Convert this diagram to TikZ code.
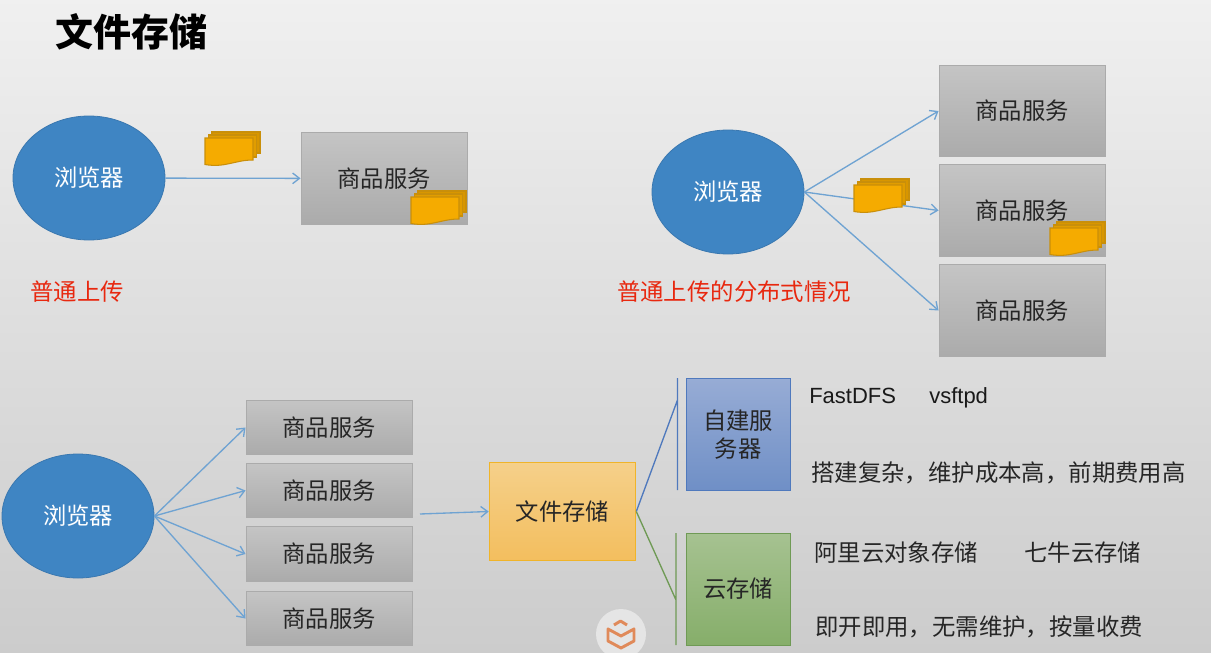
\documentclass[tikz,border=0pt]{standalone}
\usepackage{fontspec}
\setmainfont{Liberation Sans}
\newfontfamily\cjk{Noto Sans CJK SC}
\usetikzlibrary{arrows.meta,shapes.geometric}
\definecolor{bluefill}{HTML}{3F85C3}
\definecolor{blueline}{HTML}{3A78B0}
\definecolor{linkblue}{HTML}{6FA3D2}
\definecolor{docfill}{HTML}{F5AB00}
\definecolor{docline}{HTML}{C98F0A}
\definecolor{noteRed}{HTML}{E8280F}
\definecolor{selftop}{HTML}{97ACD5}
\definecolor{selfbot}{HTML}{6F8FC6}
\definecolor{selfline}{HTML}{4F79BD}
\definecolor{cloudtop}{HTML}{A6C291}
\definecolor{cloudbot}{HTML}{86AE6A}
\definecolor{cloudline}{HTML}{6F9A55}
\definecolor{storetop}{HTML}{F5D08A}
\definecolor{storebot}{HTML}{F3BE5E}
\definecolor{storeline}{HTML}{F0B429}
\definecolor{logoorange}{HTML}{E08A5A}
\tikzset{
  >={Straight Barb[length=1.8mm,width=2.8mm]},
  browser/.style={ellipse,draw=blueline,fill=bluefill,line width=0.6pt,
    minimum width=114pt,minimum height=93pt,inner sep=0pt,text=white,
    font=\cjk\fontsize{17.5}{20}\selectfont},
  svcbox/.style={draw=black!33,top color=black!23,bottom color=black!33,
    line width=0.7pt,minimum width=124.5pt,inner sep=0pt,
    font=\cjk\fontsize{17.5}{20}\selectfont,text=black!85},
  svctall/.style={svcbox,minimum height=68.5pt},
  svcflat/.style={svcbox,minimum height=41pt},
  storebox/.style={draw=storeline,top color=storetop,bottom color=storebot,
    line width=0.7pt,minimum width=110pt,minimum height=74pt,inner sep=0pt,
    font=\cjk\fontsize{17.5}{20}\selectfont,text=black!85},
  selfbox/.style={draw=selfline,top color=selftop,bottom color=selfbot,
    line width=0.7pt,minimum width=78pt,minimum height=84.5pt,inner sep=0pt,
    align=center,font=\cjk\fontsize{17.5}{21}\selectfont,text=black!85},
  cloudbox/.style={draw=cloudline,top color=cloudtop,bottom color=cloudbot,
    line width=0.7pt,minimum width=78pt,minimum height=84pt,inner sep=0pt,
    font=\cjk\fontsize{17.5}{20}\selectfont,text=black!85},
  flow/.style={->,draw=linkblue,line width=1pt},
  txtlbl/.style={anchor=west,inner sep=0pt,text=black!85,
    font=\cjk\fontsize{17.55}{20}\selectfont},
  latinlbl/.style={anchor=base west,inner sep=0pt,text=black!90,
    font=\fontsize{16.5}{20}\selectfont},
  redlbl/.style={inner sep=0pt,text=noteRed,font=\cjk\fontsize{17.55}{20}\selectfont},
  sheet/.style={draw=docline,fill=docfill,line width=0.8pt},
  docs/.pic={
    \filldraw[sheet,fill=docfill!88!black] (7,-6) rectangle (55,15);
    \filldraw[sheet,fill=docfill!92!black] (3.5,-3) rectangle (51.5,19);
    \filldraw[sheet] (0,0) -- (48,0) -- (48,22)
      .. controls (30,22) and (20,30) .. (0,26.5) -- cycle;
  },
}
\begin{document}
\begin{tikzpicture}[x=0.75pt,y=-0.75pt]
  \useasboundingbox (0,0) rectangle (1211,653);
  \clip (0,0) rectangle (1211,653);
  \shade[top color=white!94!black,middle color=white!90!black,bottom color=black!20] (0,0) rectangle (1211,653);

  \node[anchor=west,inner sep=0pt,font=\cjk\bfseries\fontsize{28.5}{32}\selectfont] (title) at (55,32) {文件存储};

  \node[browser] (brA) at (89,178) {浏览器};
  \node[svctall] (svcA) at (384,178.5) {商品服务};
  \node[redlbl] (noteA) at (77,292) {普通上传};
  \draw[flow] (brA) -- (svcA);
  \pic at (205,138) {docs};
  \pic at (411,197) {docs};

  \node[browser] (brB) at (728,192) {浏览器};
  \node[svctall] (svcB) at (1022,111) {商品服务};
  \node[svctall] (svcC) at (1022,210.5) {商品服务};
  \node[svctall] (svcD) at (1022,310.5) {商品服务};
  \node[redlbl] (noteB) at (734,292) {普通上传的分布式情况};
  \draw[flow] (brB.east) -- (svcB.west);
  \draw[flow] (brB.east) -- (svcC.west);
  \draw[flow] (brB.east) -- (svcD.west);
  \pic at (854,185) {docs};
  \pic at (1050,228) {docs};

  \node[browser] (brC) at (78,516) {浏览器};
  \node[svcflat] (svcE) at (329,427.5) {商品服务};
  \node[svcflat] (svcF) at (329,490.5) {商品服务};
  \node[svcflat] (svcG) at (329,554) {商品服务};
  \node[svcflat] (svcH) at (329,618.5) {商品服务};
  \foreach \n in {E,F,G,H}
    \draw[flow] (brC.east) -- (svc\n.west);

  \node[storebox] (store) at (562.5,511.5) {文件存储};
  \coordinate (busIn) at (420,514);
  \draw[flow] (busIn) -- (store.west);

  \node[selfbox] (self) at (738,434.5) {自建服\\务器};
  \node[cloudbox] (cloud) at (738,589) {云存储};
  \coordinate (selfTop) at (677.5,378);
  \coordinate (selfBot) at (677.5,490);
  \coordinate (selfIn) at (677.5,400);
  \coordinate (cloudTop) at (676,533);
  \coordinate (cloudBot) at (676,645);
  \coordinate (cloudIn) at (676,600);
  \draw[selfline,line width=1pt] (selfTop) -- (selfBot) (store.east) -- (selfIn);
  \draw[cloudline,line width=1pt] (cloudTop) -- (cloudBot) (store.east) -- (cloudIn);

  \node[latinlbl] (fast) at (809,403) {FastDFS};
  \node[latinlbl] (vsf) at (929,403) {vsftpd};
  \node[txtlbl] (selfNote) at (811,473) {搭建复杂，维护成本高，前期费用高};
  \node[txtlbl] (ali) at (814,553) {阿里云对象存储};
  \node[txtlbl] (qiniu) at (1024,553) {七牛云存储};
  \node[txtlbl] (cloudNote) at (815,627) {即开即用，无需维护，按量收费};

  \fill[black!10] (621,634) circle (25);
  \draw[logoorange,line width=2.2pt,line join=round]
    (614,625) -- (620.5,621) -- (627,625)
    (608,641) -- (608,629) -- (621,636) -- (634,629) -- (634,641) -- (621,648) -- cycle;
\end{tikzpicture}
\end{document}
